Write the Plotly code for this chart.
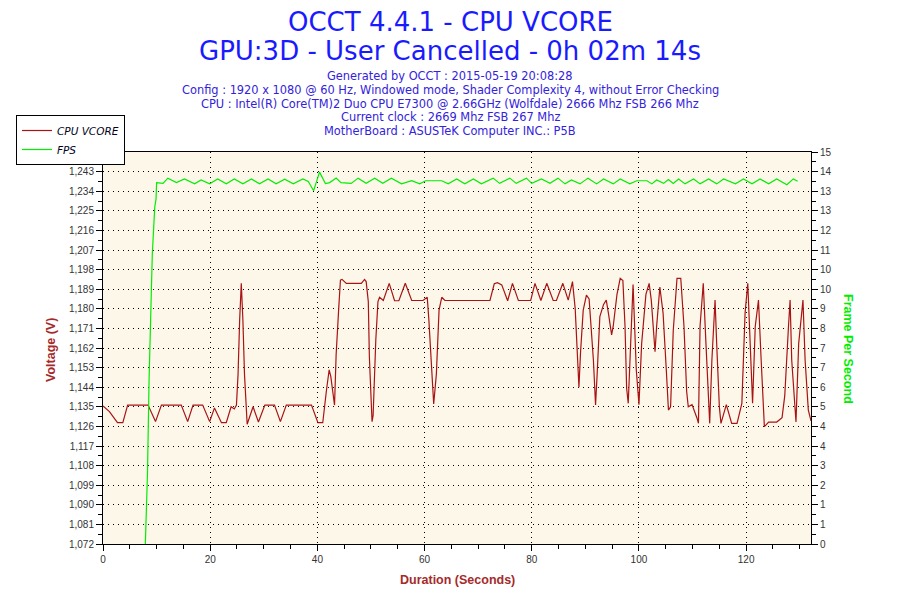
import plotly.graph_objects as go

# CPU VCORE samples (seconds, volts)
vcore_t = [0, 1.2, 2.7, 3.7, 4.6, 8.4, 9.8, 10.9, 14.6, 15.8, 16.8, 18.6, 19.9, 20.8, 22.1, 23.0,
           23.9, 24.5, 24.9, 25.2, 25.5, 25.8, 26.1, 26.4, 26.9, 28.0, 29.0, 30.2, 32.0, 33.1, 34.2,
           38.9, 40.1, 41.0, 41.7, 42.2, 42.5, 43.2, 43.5, 43.7, 44.0, 44.3, 44.6, 45.4, 48.2, 48.8,
           49.1, 49.5, 49.7, 50.0, 50.2, 50.4, 50.9, 51.3, 51.6, 52.3, 53.4, 54.4, 55.2, 56.4, 57.6,
           59.7, 60.5, 60.8, 61.3, 61.7, 62.2, 62.7, 63.2, 63.8, 72.2, 73.0, 73.6, 74.4, 75.5, 76.4,
           77.5, 79.8, 80.6, 81.7, 82.8, 84.0, 84.6, 85.8, 86.8, 87.6, 88.1, 88.5, 88.8, 89.1, 89.6,
           90.2, 90.7, 91.5, 91.9, 92.2, 92.7, 93.4, 93.9, 94.3, 94.9, 95.2, 95.9, 96.5, 97.0, 97.4,
           97.7, 98.0, 98.5, 98.9, 99.5, 100.0, 100.5, 101.3, 101.9, 102.3, 103.0, 103.3, 103.9,
           104.5, 105.1, 105.5, 105.9, 106.4, 107.1, 107.8, 108.4, 108.9, 109.2, 109.9, 110.8, 111.1,
           111.4, 112.0, 112.5, 113.2, 113.6, 114.2, 114.5, 115.0, 115.3, 116.3, 117.3, 118.3, 119.2,
           119.8, 120.3, 120.8, 121.2, 121.7, 122.3, 122.8, 123.4, 124.2, 125.7, 126.7, 127.2, 127.9,
           128.2, 128.5, 129.3, 129.8, 130.6, 131.0, 131.6, 132.1]
vcore_v = [1.1354, 1.1328, 1.1277, 1.1277, 1.1358, 1.1358, 1.1282, 1.1358, 1.1358, 1.1282, 1.1358,
           1.1358, 1.1282, 1.1345, 1.1277, 1.1277, 1.1350, 1.1340, 1.1358, 1.1500, 1.1750, 1.1917,
           1.1750, 1.1500, 1.1270, 1.1350, 1.1280, 1.1358, 1.1358, 1.1282, 1.1358, 1.1358, 1.1277,
           1.1277, 1.1427, 1.1520, 1.1490, 1.1358, 1.1590, 1.1703, 1.1810, 1.1932, 1.1935, 1.1917,
           1.1917, 1.1935, 1.1925, 1.1833, 1.1580, 1.1400, 1.1282, 1.1310, 1.1657, 1.1833, 1.1853,
           1.1838, 1.1917, 1.1837, 1.1837, 1.1917, 1.1838, 1.1838, 1.1853, 1.1749, 1.1520, 1.1363,
           1.1500, 1.1794, 1.1853, 1.1838, 1.1838, 1.1915, 1.1920, 1.1910, 1.1837, 1.1917, 1.1838,
           1.1838, 1.1917, 1.1838, 1.1917, 1.1838, 1.1838, 1.1917, 1.1840, 1.1925, 1.1802, 1.1626,
           1.1440, 1.1600, 1.1794, 1.1863, 1.1845, 1.1565, 1.1358, 1.1500, 1.1764, 1.1820, 1.1840,
           1.1780, 1.1680, 1.1720, 1.1866, 1.1940, 1.1930, 1.1720, 1.1435, 1.1366, 1.1720, 1.1912,
           1.1520, 1.1360, 1.1640, 1.1866, 1.1917, 1.1840, 1.1603, 1.1720, 1.1900, 1.1780, 1.1520,
           1.1335, 1.1350, 1.1700, 1.1940, 1.1940, 1.1720, 1.1420, 1.1350, 1.1360, 1.1300, 1.1274,
           1.1720, 1.1917, 1.1640, 1.1274, 1.1560, 1.1840, 1.1640, 1.1350, 1.1274, 1.1360, 1.1274,
           1.1274, 1.1366, 1.1780, 1.1917, 1.1640, 1.1366, 1.1720, 1.1840, 1.1565, 1.1259, 1.1280,
           1.1280, 1.1300, 1.1400, 1.1720, 1.1840, 1.1565, 1.1280, 1.1640, 1.1840, 1.1565, 1.1335,
           1.1285]

# FPS samples (seconds, frames per second)
fps_t = [7.9, 8.3, 8.6, 9.0, 9.2, 9.66, 9.9, 10.0, 11.2, 12.1, 13.7, 15.2, 17.1, 18.3, 19.9, 21.4,
         23.0, 24.5, 26.1, 27.7, 29.2, 30.8, 32.3, 33.9, 35.5, 37.3, 38.3, 39.3, 40.4, 41.5, 42.3,
         43.5, 44.4, 46.3, 47.6, 49.1, 50.7, 52.2, 53.8, 55.7, 57.6, 59.1, 60.2, 63.2, 64.4, 66.0,
         67.5, 69.1, 70.6, 72.8, 74.0, 75.9, 77.1, 79.0, 80.0, 81.8, 83.4, 84.9, 86.2, 87.4, 89.0,
         90.5, 92.1, 93.4, 95.2, 96.5, 98.3, 99.6, 101.5, 102.4, 103.3, 104.6, 105.5, 106.4, 107.4,
         108.6, 110.2, 111.4, 113.0, 114.5, 115.8, 118.0, 119.5, 121.1, 122.6, 124.2, 125.7, 127.6,
         128.8, 129.6]
fps_v = [0, 2.7, 6.3, 10.0, 11.1, 12.9, 13.2, 13.83, 13.8, 14.0, 13.83, 13.97, 13.78, 13.93, 13.78,
         13.97, 13.78, 13.97, 13.78, 13.97, 13.78, 13.97, 13.78, 13.96, 13.78, 13.97, 13.87, 13.52,
         14.23, 13.79, 13.83, 14.0, 13.83, 13.8, 14.0, 13.8, 14.0, 13.8, 14.0, 13.78, 13.9, 13.78,
         13.9, 13.9, 13.78, 13.97, 13.78, 13.97, 13.78, 14.0, 13.8, 14.0, 13.8, 14.0, 13.8, 13.97,
         13.8, 14.0, 13.78, 13.93, 13.78, 14.0, 13.78, 13.97, 13.78, 13.97, 13.78, 13.9, 13.9, 13.78,
         13.93, 13.8, 13.95, 13.8, 13.97, 13.78, 13.97, 13.78, 13.97, 13.78, 13.97, 13.78, 13.97,
         13.78, 13.97, 13.78, 13.97, 13.75, 13.97, 13.88]

# axis tick labels
volt_ticks = [1.072, 1.081, 1.090, 1.099, 1.108, 1.117, 1.126, 1.135, 1.144, 1.153, 1.162,
              1.171, 1.180, 1.189, 1.198, 1.207, 1.216, 1.225, 1.234, 1.243, 1.252]
volt_labels = ["1,072", "1,081", "1,090", "1,099", "1,108", "1,117", "1,126", "1,135", "1,144",
               "1,153", "1,162", "1,171", "1,180", "1,189", "1,198", "1,207", "1,216", "1,225",
               "1,234", "1,243", "1,252"]
fps_labels = ["0", "1", "1", "2", "3", "4", "4", "5", "6", "7", "7", "8", "9", "10", "10",
              "11", "12", "13", "13", "14", "15"]
fps_ticks = [15 * i / 20 for i in range(21)]

title_lines = ["Generated by OCCT : 2015-05-19 20:08:28",
               "Config : 1920 x 1080 @ 60 Hz, Windowed mode, Shader Complexity 4, without Error Checking",
               "CPU : Intel(R) Core(TM)2 Duo CPU E7300 @ 2.66GHz (Wolfdale) 2666 Mhz FSB 266 Mhz",
               "Current clock : 2669 Mhz FSB 267 Mhz",
               "MotherBoard : ASUSTeK Computer INC.: P5B"]

# the page puts the figure 8px in from the top-left, so work in shifted pixels
OFF = 8
W, H = 900 - OFF, 600 - OFF
L, R, T, B = 103 - OFF, 811 - OFF, 152 - OFF, 544 - OFF


def px(x):
    return (x - OFF - L) / (R - L)


def py(y):
    return (B - (y - OFF)) / (B - T)


RED = "#a81414"
GREEN = "#00ee00"
BLUE = "#1a1aff"
INFO = "#3322dd"

fig = go.Figure()
fig.add_trace(go.Scatter(x=vcore_t, y=vcore_v, mode="lines", name="CPU VCORE",
                         line=dict(color=RED, width=1.2)))
fig.add_trace(go.Scatter(x=fps_t, y=fps_v, mode="lines", name="FPS", yaxis="y2",
                         line=dict(color=GREEN, width=1.2)))

tick_font = dict(family="Liberation Sans, Arial", size=10, color="#333333")
grid = dict(showgrid=True, gridcolor="#000000", gridwidth=1, griddash="1px,4px")

fig.update_layout(
    width=W, height=H,
    margin=dict(l=L, r=W - R, t=T, b=H - B, autoexpand=False),
    paper_bgcolor="white",
    plot_bgcolor="#fdf7e9",
    showlegend=True,
    legend=dict(x=px(16), y=py(115), xanchor="left", yanchor="top",
                bgcolor="white", bordercolor="black", borderwidth=1,
                font=dict(family="DejaVu Sans, Verdana", size=10.5, color="#000022", style="italic"),
                tracegroupgap=0),
    xaxis=dict(range=[0, 132.1], tickmode="array", tickvals=[0, 20, 40, 60, 80, 100, 120],
               ticks="outside", ticklen=6, tickcolor="black", showline=True, linecolor="black",
               linewidth=1, mirror=True, zeroline=False, tickfont=tick_font,
               minor=dict(dtick=5, tick0=0, ticks="outside", ticklen=4, tickcolor="black",
                          showgrid=False),
               **grid),
    yaxis=dict(range=[1.072, 1.252], tickmode="array", tickvals=volt_ticks, ticktext=volt_labels,
               ticks="outside", ticklen=6, tickcolor="black", showline=True, linecolor="black",
               linewidth=1, zeroline=False, tickfont=tick_font,
               minor=dict(tickvals=[v + 0.0045 for v in volt_ticks[:-1]], ticks="outside",
                          ticklen=4, tickcolor="black", showgrid=False),
               **grid),
    yaxis2=dict(range=[0, 15], overlaying="y", side="right", tickmode="array",
                tickvals=fps_ticks, ticktext=fps_labels, ticks="outside", ticklen=6,
                tickcolor="black", showline=True, linecolor="black", linewidth=1,
                showgrid=False, zeroline=False, tickfont=tick_font,
                minor=dict(tickvals=[v + 0.375 for v in fps_ticks[:-1]], ticks="outside",
                           ticklen=4, tickcolor="black", showgrid=False)),
)

annotations = [
    dict(text="OCCT 4.4.1 - CPU VCORE", x=px(450), y=py(22),
         font=dict(family="DejaVu Sans, Verdana", size=26, color=BLUE)),
    dict(text="GPU:3D - User Cancelled - 0h 02m 14s", x=px(450), y=py(51),
         font=dict(family="DejaVu Sans, Verdana", size=26, color=BLUE)),
]
for i, line in enumerate(title_lines):
    annotations.append(dict(text=line, x=px(450), y=py(76 + i * 13.8),
                            font=dict(family="DejaVu Sans, Verdana", size=11.4, color=INFO)))
annotations += [
    dict(text="<b>Voltage (V)</b>", x=px(51), y=py(350), textangle=-90,
         font=dict(family="Liberation Sans, Arial", size=12.5, color="#a52a2a")),
    dict(text="<b>Frame Per Second</b>", x=px(848), y=py(349), textangle=90,
         font=dict(family="Liberation Sans, Arial", size=12.5, color="#00ee00")),
    dict(text="<b>Duration (Seconds)</b>", x=px(457), y=py(580),
         font=dict(family="Liberation Sans, Arial", size=12.5, color="#a52a2a")),
]
for a in annotations:
    a.update(xref="paper", yref="paper", showarrow=False, xanchor="center", yanchor="middle")
fig.update_layout(annotations=annotations)

fig.write_html("out.html")
